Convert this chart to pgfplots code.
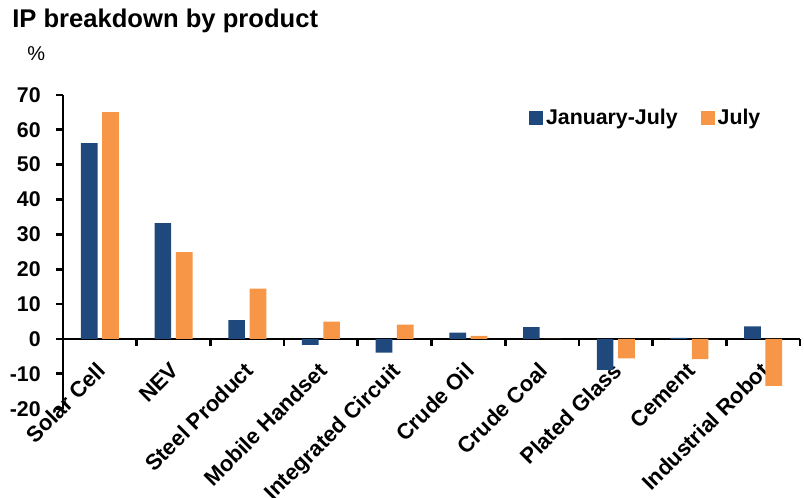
\documentclass[border=0pt]{standalone}
\usepackage{fontspec}
\setmainfont{Liberation Sans}
\usepackage{pgfplots}
\pgfplotsset{compat=1.18}
\definecolor{cblue}{RGB}{31,73,125}
\definecolor{corange}{RGB}{247,150,70}
\begin{document}
\begin{tikzpicture}
\useasboundingbox (0,0) rectangle (603pt,373.5pt);
\node[anchor=base west, inner sep=0pt, font=\bfseries\fontsize{19.2}{23}\selectfont] at (9pt,352.5pt) {IP breakdown by product};
\node[anchor=base west, inner sep=0pt, font=\fontsize{15}{18}\selectfont] at (20.25pt,327.75pt) {\%};
\begin{axis}[
 at={(47.25pt,67pt)}, anchor=south west,
 scale only axis, width=552.75pt, height=235.3pt,
 xmin=-0.5, xmax=9.5, ymin=-20, ymax=70,
 axis x line*=middle, axis y line*=left,
 axis line style={line width=2pt, black},
 ybar=3.5pt, bar width=12.5pt,
 ytick={-20,-10,...,70},
 xtick={-0.5,0.5,...,9.5},
 xticklabels={},
 extra x ticks={0,...,9},
 extra x tick labels={Solar Cell, NEV, Steel Product, Mobile Handset, Integrated Circuit, Crude Oil, Crude Coal, Plated Glass, Cement, Industrial Robot},
 extra x tick style={major tick length=0pt, tick style={draw=none}},
 major tick length=5.25pt,
 tick align=outside,
 tick style={line width=2pt, black},
 /pgf/number format/assume math mode=true,
 yticklabel style={font=\bfseries\fontsize{16}{19}\selectfont, xshift=-8pt},
 xticklabel style={font=\bfseries\fontsize{16.5}{20}\selectfont, xshift=-3pt, yshift=-16.4pt, rotate=45, anchor=north east, inner sep=0pt},
 legend style={at={(0.627,0.927)}, anchor=west, draw=none, fill=none, font=\bfseries\fontsize{16}{19}\selectfont, legend columns=2, /tikz/every even column/.append style={column sep=15.5pt}},
 legend cell align=left,
]
\addplot[fill=cblue, draw=none, legend image code/.code={\fill[cblue] (-2pt,-5.25pt) rectangle (8.5pt,5.25pt);}] coordinates {
(0,56.2) (1,33.2) (2,5.4) (3,-1.7) (4,-3.9) (5,1.8) (6,3.4) (7,-8.9) (8,0.3) (9,3.6)};
\addplot[fill=corange, draw=none, legend image code/.code={\fill[corange] (-2pt,-5.25pt) rectangle (8.5pt,5.25pt);}] coordinates {
(0,65.1) (1,24.9) (2,14.4) (3,5.0) (4,4.1) (5,0.9) (6,0) (7,-5.6) (8,-5.8) (9,-13.5)};
\legend{January-July, July}
\end{axis}
\end{tikzpicture}
\end{document}
